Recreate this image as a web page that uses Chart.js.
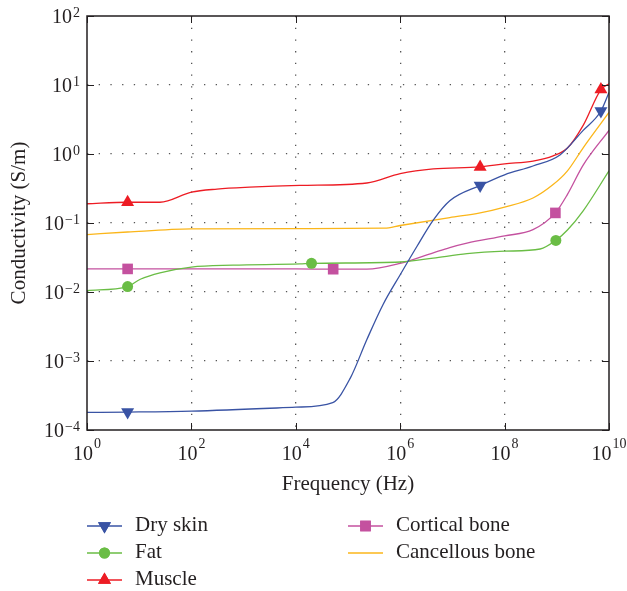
<!DOCTYPE html>
<html>
<head>
<meta charset="utf-8">
<script src="https://cdn.jsdelivr.net/npm/chart.js@4/dist/chart.umd.min.js"></script>
<style>
  body { margin: 0; background: #fff; }
  #wrap { width: 627px; height: 591px; }
</style>
</head>
<body>
<div id="wrap"><canvas id="chart" width="627" height="591"></canvas></div>
<script>
// values (frequency in Hz, conductivity in S/m)
const skinFreq = [1, 6, 100, 1e4, 5.1e4, 1.1e5, 2.3e5, 4.7e5, 1e6, 2.1e6, 4.3e6, 8.9e6, 3.4e7, 1e8, 3.5e8, 1.15e9, 3.2e9, 7e9, 1e10];
const skinCond = [1.8e-4, 1.82e-4, 1.88e-4, 2.14e-4, 2.5e-4, 5.6e-4, 2.05e-3, 6.6e-3, 0.0178, 0.046, 0.11, 0.21, 0.35, 0.5, 0.67, 0.97, 2.2, 4.2, 7.8];
const skinMarks = [6, 3.4e7, 7e9];

const fatFreq = [1, 6, 10.5, 25, 100, 630, 1.2e4, 2e4, 1e6, 4.3e6, 1.9e7, 1e8, 4.8e8, 9.6e8, 1.6e9, 3.2e9, 1e10];
const fatCond = [0.0105, 0.012, 0.0153, 0.019, 0.023, 0.0245, 0.0255, 0.026, 0.0272, 0.031, 0.036, 0.039, 0.042, 0.056, 0.079, 0.15, 0.57];
const fatMarks = [6, 2e4, 9.6e8];

const muscleFreq = [1, 6, 25, 100, 310, 1.3e3, 1.2e4, 2.3e5, 1e6, 4.3e6, 3.4e7, 1e8, 3.5e8, 8.5e8, 1.6e9, 3.2e9, 7e9, 1e10];
const muscleCond = [0.19, 0.2, 0.2, 0.28, 0.31, 0.33, 0.35, 0.38, 0.52, 0.61, 0.65, 0.72, 0.79, 0.94, 1.22, 2.6, 8.6, 10.4];
const muscleMarks = [6, 3.4e7, 7e9];

const cortFreq = [1, 6, 100, 1e4, 5.2e4, 2.3e5, 1e6, 4.3e6, 8.9e6, 1.9e7, 1e8, 3.5e8, 9.4e8, 1.6e9, 3.2e9, 1e10];
const cortCond = [0.0216, 0.0216, 0.0216, 0.0216, 0.0214, 0.0214, 0.026, 0.037, 0.044, 0.051, 0.065, 0.08, 0.14, 0.26, 0.69, 2.2];
const cortMarks = [6, 5.2e4, 9.4e8];

const cancFreq = [1, 6, 100, 1e4, 5e5, 1e6, 8.9e6, 3.4e7, 1e8, 3.5e8, 8.5e8, 1.6e9, 3.2e9, 1e10];
const cancCond = [0.068, 0.074, 0.082, 0.083, 0.084, 0.092, 0.12, 0.14, 0.17, 0.23, 0.36, 0.57, 1.23, 4.0];

const xTicks = [1, 1e2, 1e4, 1e6, 1e8, 1e10];
const yTicks = [1e-4, 1e-3, 1e-2, 1e-1, 1, 1e1, 1e2];

const FONT = '"Liberation Serif", "DejaVu Serif", serif';
const INK = "#231f20";

function pts(xs, ys) {
  return xs.map((x, i) => ({ x, y: ys[i] }));
}

function series(label, xs, ys, marks, color, style, rot, r) {
  return {
    label,
    data: pts(xs, ys),
    borderColor: color,
    backgroundColor: color,
    borderWidth: 1.3,
    cubicInterpolationMode: "monotone",
    pointStyle: style || false,
    pointRotation: rot || 0,
    pointBorderWidth: 0,
    pointRadius: (ctx) => (marks.includes(ctx.raw && ctx.raw.x) ? r : 0),
    pointHoverRadius: 0,
    _legend: { style, rot, r },
  };
}

const datasets = [
  series("Dry skin", skinFreq, skinCond, skinMarks, "#3953a4", "triangle", 180, 7.5),
  series("Fat", fatFreq, fatCond, fatMarks, "#6abd45", "circle", 0, 5.5),
  series("Muscle", muscleFreq, muscleCond, muscleMarks, "#ed1c24", "triangle", 0, 7.5),
  series("Cortical bone", cortFreq, cortCond, cortMarks, "#c4519f", "rect", 0, 7.5),
  series("Cancellous bone", cancFreq, cancCond, [], "#fbb61a", null, 0, 0),
];

function powLabel(ctx, exp, px, py, align) {
  ctx.font = "20px " + FONT;
  const base = "10";
  const wb = ctx.measureText(base).width;
  ctx.font = "14px " + FONT;
  const sup = String(exp).replace("-", "\u2212");
  const ws = ctx.measureText(sup).width;
  const w = wb + ws + 1;
  let x0;
  let yb, ys;
  if (align === "x") {
    x0 = px - w / 2;
    yb = py + 30;
    ys = py + 18;
  } else {
    x0 = px - 7 - w;
    yb = py + 7;
    ys = py + 1;
  }
  ctx.textAlign = "left";
  ctx.textBaseline = "alphabetic";
  ctx.font = "20px " + FONT;
  ctx.fillText(base, x0, yb);
  ctx.font = "14px " + FONT;
  ctx.fillText(sup, x0 + wb + 1, ys);
}

function marker(ctx, style, rot, r, x, y) {
  if (!style) return;
  Chart.helpers.drawPoint(ctx, { pointStyle: style, rotation: rot, radius: r, borderWidth: 0 }, x, y);
  ctx.fill();
}

const decor = {
  id: "decor",
  afterDraw(chart) {
    const { ctx, chartArea: a, scales } = chart;
    const xs = scales.x, ys = scales.y;
    ctx.save();
    ctx.strokeStyle = INK;
    ctx.fillStyle = INK;
    ctx.lineWidth = 1;
    ctx.beginPath();
    xTicks.forEach((v) => {
      const px = Math.round(xs.getPixelForValue(v)) + 0.5;
      ctx.moveTo(px, a.bottom); ctx.lineTo(px, a.bottom - 7);
      ctx.moveTo(px, a.top); ctx.lineTo(px, a.top + 7);
    });
    yTicks.forEach((v) => {
      const py = Math.round(ys.getPixelForValue(v)) + 0.5;
      ctx.moveTo(a.left, py); ctx.lineTo(a.left + 7, py);
      ctx.moveTo(a.right, py); ctx.lineTo(a.right - 7, py);
    });
    ctx.stroke();
    ctx.lineWidth = 1.5;
    ctx.strokeRect(a.left, a.top, a.right - a.left, a.bottom - a.top);

    xTicks.forEach((v) => powLabel(ctx, Math.round(Math.log10(v)), xs.getPixelForValue(v), a.bottom, "x"));
    yTicks.forEach((v) => powLabel(ctx, Math.round(Math.log10(v)), a.left, ys.getPixelForValue(v), "y"));

    // axis titles
    ctx.font = "21px " + FONT;
    ctx.textAlign = "center";
    ctx.textBaseline = "alphabetic";
    ctx.fillText("Frequency (Hz)", (a.left + a.right) / 2, a.bottom + 60);
    ctx.save();
    ctx.translate(25, (a.top + a.bottom) / 2);
    ctx.rotate(-Math.PI / 2);
    ctx.fillText("Conductivity (S/m)", 0, 0);
    ctx.restore();

    // legend in two columns
    const cols = [[0, 1, 2], [3, 4]];
    const colX = [87, 348];
    cols.forEach((idx, c) => {
      idx.forEach((di, row) => {
        const ds = chart.data.datasets[di];
        const base = 531 + row * 27;
        const ly = base - 5;
        const x0 = colX[c];
        ctx.strokeStyle = ds.borderColor;
        ctx.lineWidth = 1.5;
        ctx.beginPath();
        ctx.moveTo(x0, ly);
        ctx.lineTo(x0 + 35, ly);
        ctx.stroke();
        ctx.fillStyle = ds.backgroundColor;
        const lg = ds._legend;
        marker(ctx, lg.style, lg.rot, lg.r, x0 + 17.5, ly);
        ctx.fillStyle = INK;
        ctx.textAlign = "left";
        ctx.font = "21px " + FONT;
        ctx.fillText(ds.label, x0 + 48, base);
      });
    });
    ctx.restore();
  },
};

function logAxis(min, max, ticks, gridAt) {
  return {
    type: "logarithmic",
    min,
    max,
    afterBuildTicks: (s) => { s.ticks = ticks.map((v) => ({ value: v })); },
    afterFit: (s) => {
      if (s.isHorizontal()) s.height = 0; else s.width = 0;
    },
    ticks: { display: false },
    grid: {
      drawTicks: false,
      lineWidth: 1.3,
      color: (ctx) => (gridAt.includes(ctx.tick && ctx.tick.value) ? "#555" : "rgba(0,0,0,0)"),
    },
    border: { display: false, dash: [1.3, 10.4] },
  };
}

new Chart(document.getElementById("chart"), {
  type: "line",
  data: { datasets },
  options: {
    responsive: false,
    animation: false,
    events: [],
    layout: { padding: { left: 87, top: 16, right: 18, bottom: 161 } },
    plugins: { legend: { display: false }, tooltip: { enabled: false } },
    scales: {
      x: logAxis(1, 1e10, xTicks, [1e2, 1e4, 1e6, 1e8]),
      y: logAxis(1e-4, 1e2, yTicks, [1e-3, 1e-2, 1e-1, 1, 1e1]),
    },
  },
  plugins: [decor],
});
</script>
</body>
</html>
